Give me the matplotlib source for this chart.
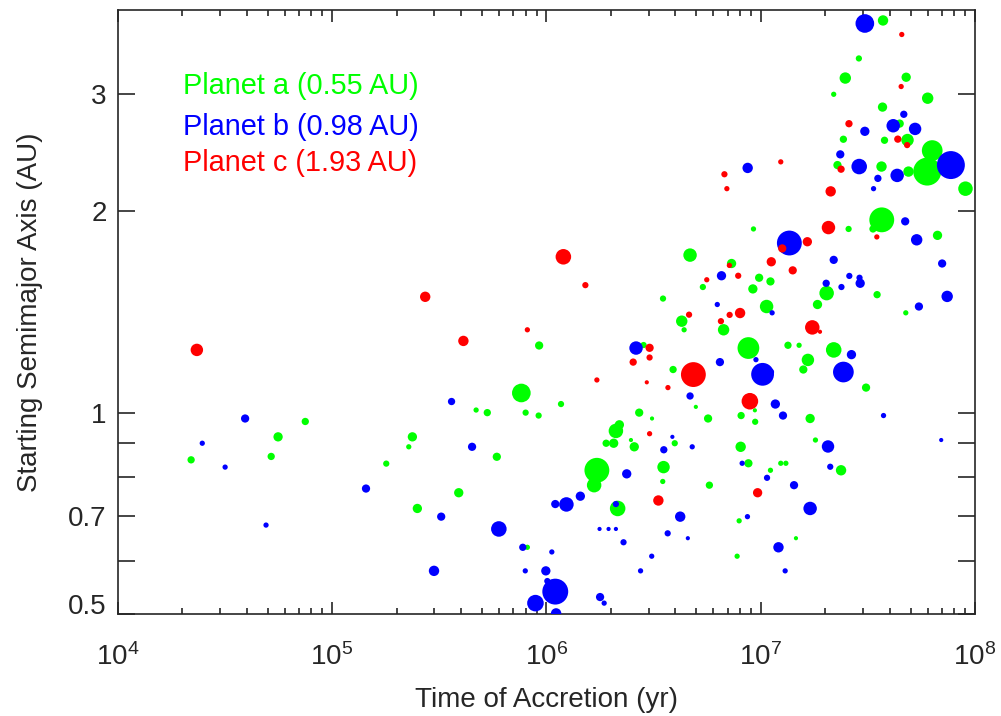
import numpy as np
import matplotlib
matplotlib.use("Agg")
import matplotlib.pyplot as plt
from matplotlib.ticker import FixedLocator, LogLocator, FuncFormatter, NullFormatter, NullLocator

plt.rcParams["font.family"] = ["Liberation Sans", "DejaVu Sans"]
plt.rcParams["mathtext.fontset"] = "custom"
plt.rcParams["mathtext.rm"] = "Liberation Sans"
plt.rcParams["mathtext.it"] = "Liberation Sans:italic"
plt.rcParams["mathtext.bf"] = "Liberation Sans:bold"

# ---- accreted bodies: time of accretion (yr), starting semimajor axis (AU), mass (M_earth)
time_a = [2.2e4, 5.2e4, 5.6e4, 7.5e4, 1.79e5, 2.37e5, 2.28e5, 4.7e5, 5.3e5, 5.87e5,
          3.9e5, 2.5e5, 8.15e5, 8.0e5, 9.2e5, 9.25e5, 7.64e5, 1.17e6, 1.72e6, 1.67e6,
          1.9e6, 2.06e6, 2.11e6, 2.19e6, 2.48e6, 2.57e6, 2.15e6, 2.71e6, 3.11e6, 3.52e6,
          3.49e6, 3.97e6, 3.9e6, 4.98e6, 5.68e6, 5.76e6, 8.1e6, 8.06e6, 8.76e6, 7.93e6,
          7.76e6, 9.42e6, 9.39e6, 8.76e6, 4.28e6, 4.39e6, 6.71e6, 2.84e6, 3.5e6, 5.37e6,
          9.19e6, 9.83e6, 1.11e7, 7.31e6, 4.68e6, 9.25e6, 1.065e7, 1.34e7, 1.51e7, 1.66e7,
          1.58e7, 2.19e7, 3.1e7, 1.7e7, 1.8e7, 1.11e7, 1.24e7, 1.31e7, 2.37e7, 1.46e7,
          1.84e7, 2.03e7, 3.49e7, 4.75e7, 3.67e7, 3.34e7, 2.57e7, 6.68e7, 9.02e7, 5.98e7,
          6.31e7, 4.89e7, 3.66e7, 2.28e7, 2.43e7, 3.78e7, 4.84e7, 4.45e7, 3.7e7, 6.01e7,
          2.19e7, 2.48e7, 4.77e7, 2.87e7, 3.72e7]
semi_a = [0.85, 0.86, 0.92, 0.97, 0.839, 0.92, 0.889, 1.009, 1.0, 0.859,
          0.759, 0.719, 0.629, 1.0, 0.99, 1.26, 1.07, 1.03, 0.82, 0.779,
          0.90, 0.90, 0.939, 0.959, 0.91, 0.889, 0.719, 1.0, 0.98, 0.829,
          0.789, 0.90, 1.16, 1.02, 0.98, 0.779, 0.99, 0.889, 0.84, 0.689,
          0.61, 0.969, 1.008, 1.249, 1.37, 1.33, 1.33, 1.262, 1.481, 1.541,
          1.531, 1.591, 1.571, 1.671, 1.72, 1.882, 1.441, 1.261, 1.261, 1.199,
          1.16, 1.241, 1.09, 0.98, 0.91, 0.82, 0.84, 0.84, 0.82, 0.649,
          1.451, 1.509, 1.501, 1.41, 1.942, 1.882, 1.882, 1.841, 2.162, 2.293,
          2.465, 2.293, 2.333, 2.345, 2.563, 2.554, 2.556, 2.705, 2.863, 2.952,
          2.992, 3.164, 3.173, 3.385, 3.858]
mass_a = [0.016, 0.016, 0.033, 0.016, 0.010, 0.033, 0.006, 0.006, 0.016, 0.023,
          0.033, 0.033, 0.006, 0.010, 0.010, 0.023, 0.266, 0.010, 0.630, 0.125,
          0.016, 0.033, 0.125, 0.033, 0.003, 0.033, 0.154, 0.023, 0.003, 0.079,
          0.006, 0.010, 0.016, 0.003, 0.023, 0.016, 0.016, 0.046, 0.023, 0.006,
          0.006, 0.010, 0.003, 0.422, 0.061, 0.006, 0.061, 0.010, 0.010, 0.010,
          0.033, 0.023, 0.023, 0.033, 0.100, 0.006, 0.100, 0.016, 0.006, 0.079,
          0.023, 0.154, 0.023, 0.033, 0.006, 0.006, 0.006, 0.006, 0.046, 0.003,
          0.033, 0.125, 0.016, 0.006, 0.630, 0.016, 0.010, 0.033, 0.125, 0.897,
          0.364, 0.046, 0.046, 0.023, 0.016, 0.016, 0.079, 0.023, 0.033, 0.061,
          0.006, 0.061, 0.033, 0.010, 0.046]

time_b = [2.48e4, 3.17e4, 3.93e4, 4.92e4, 1.44e5, 3.23e5, 2.99e5, 3.61e5, 4.5e5, 6.0e5,
          7.76e5, 1.06e6, 7.97e5, 9.94e5, 1.01e6, 1.1e6, 8.89e5, 1.11e6, 1.1e6, 1.24e6,
          1.44e6, 2.11e6, 2.37e6, 1.77e6, 1.95e6, 2.11e6, 2.29e6, 2.75e6, 3.1e6, 1.78e6,
          1.86e6, 2.62e6, 3.53e6, 3.87e6, 4.79e6, 4.68e6, 4.21e6, 3.68e6, 4.57e6, 6.45e6,
          9.5e6, 1.02e7, 1.11e7, 8.19e6, 8.67e6, 1.07e7, 1.17e7, 1.27e7, 1.21e7, 1.3e7,
          1.43e7, 1.7e7, 2.06e7, 2.11e7, 2.43e7, 2.65e7, 3.74e7, 6.95e7, 6.27e6, 6.56e6,
          1.13e7, 8.69e6, 1.36e7, 2.19e7, 2.02e7, 2.38e7, 2.59e7, 2.89e7, 2.91e7, 7.41e7,
          5.47e7, 7.02e7, 5.34e7, 4.72e7, 3.36e7, 3.52e7, 4.33e7, 2.88e7, 7.71e7, 2.35e7,
          3.06e7, 4.15e7, 5.25e7, 4.65e7, 3.06e7]
semi_b = [0.90, 0.829, 0.98, 0.679, 0.77, 0.699, 0.58, 1.039, 0.889, 0.67,
          0.629, 0.619, 0.58, 0.58, 0.56, 0.54, 0.519, 0.501, 0.73, 0.729,
          0.75, 0.73, 0.81, 0.67, 0.67, 0.67, 0.64, 0.58, 0.61, 0.53,
          0.519, 1.249, 0.88, 0.92, 0.889, 1.059, 0.699, 0.66, 0.649, 1.19,
          1.20, 1.141, 1.15, 0.84, 0.699, 0.799, 1.03, 0.99, 0.629, 0.58,
          0.779, 0.719, 0.89, 0.83, 1.15, 1.221, 0.99, 0.91, 1.451, 1.602,
          1.41, 2.322, 1.793, 1.692, 1.561, 1.541, 1.601, 1.591, 1.561, 1.492,
          1.441, 1.671, 1.813, 1.932, 2.162, 2.24, 2.263, 2.333, 2.345, 2.433,
          2.634, 2.685, 2.656, 2.793, 3.818]
mass_b = [0.006, 0.006, 0.023, 0.006, 0.023, 0.023, 0.046, 0.016, 0.023, 0.154,
          0.016, 0.006, 0.006, 0.033, 0.010, 0.712, 0.187, 0.046, 0.023, 0.125,
          0.033, 0.010, 0.033, 0.003, 0.003, 0.003, 0.010, 0.006, 0.006, 0.023,
          0.006, 0.100, 0.016, 0.003, 0.006, 0.016, 0.046, 0.010, 0.003, 0.023,
          0.006, 0.485, 0.016, 0.006, 0.006, 0.010, 0.033, 0.023, 0.046, 0.006,
          0.023, 0.100, 0.079, 0.010, 0.364, 0.033, 0.006, 0.003, 0.006, 0.033,
          0.006, 0.046, 0.630, 0.023, 0.016, 0.010, 0.010, 0.010, 0.033, 0.061,
          0.023, 0.023, 0.061, 0.023, 0.006, 0.016, 0.100, 0.154, 0.897, 0.023,
          0.033, 0.100, 0.079, 0.016, 0.266]

time_c = [2.34e4, 2.72e5, 4.1e5, 8.15e5, 1.2e6, 1.52e6, 1.72e6, 2.54e6, 3.03e6, 3.03e6,
          2.94e6, 3.03e6, 3.69e6, 3.33e6, 4.85e6, 8.9e6, 9.67e6, 4.63e6, 6.52e6, 7.16e6,
          8.01e6, 5.6e6, 7.85e6, 7.14e6, 1.12e7, 1.41e7, 1.74e7, 1.89e7, 6.77e6, 6.95e6,
          1.24e7, 1.65e7, 1.26e7, 2.07e7, 3.48e7, 2.12e7, 2.37e7, 2.58e7, 4.36e7, 4.82e7,
          4.52e7, 4.55e7]
semi_c = [1.241, 1.49, 1.28, 1.33, 1.71, 1.551, 1.119, 1.19, 1.209, 1.25,
          1.11, 0.93, 1.09, 0.739, 1.14, 1.04, 0.759, 1.401, 1.37, 1.40,
          1.409, 1.58, 1.602, 1.66, 1.681, 1.632, 1.341, 1.321, 2.272, 2.162,
          2.371, 1.801, 1.76, 1.891, 1.831, 2.142, 2.312, 2.704, 2.564, 2.512,
          3.073, 3.676]
mass_c = [0.079, 0.046, 0.046, 0.006, 0.154, 0.010, 0.006, 0.016, 0.010, 0.023,
          0.003, 0.006, 0.006, 0.046, 0.630, 0.187, 0.033, 0.010, 0.010, 0.010,
          0.046, 0.006, 0.010, 0.006, 0.033, 0.023, 0.125, 0.003, 0.010, 0.006,
          0.006, 0.033, 0.023, 0.100, 0.006, 0.046, 0.016, 0.016, 0.016, 0.010,
          0.006, 0.006]

planet_names = ["Planet a (0.55 AU)", "Planet b (0.98 AU)", "Planet c (1.93 AU)"]
planet_colors = ["#00ff00", "#0000ff", "#ff0000"]

x_ticks = [1e4, 1e5, 1e6, 1e7, 1e8]
y_ticks = [0.5, 0.6, 0.7, 0.8, 0.9, 1, 2, 3]
y_labels = {0.5: "0.5", 0.7: "0.7", 1: "1", 2: "2", 3: "3"}

DPI = 100
fig = plt.figure(figsize=(10.01, 7.16), dpi=DPI)
ax = fig.add_axes([0.1176, 0.1425, 0.8565, 0.8436])
ax.set_xscale("log")
ax.set_yscale("log")
ax.set_xlim(1e4, 1e8)
ax.set_ylim(0.5, 4.0)


def marker_area(mass):
    # symbol diameter grows with the cube root of the mass
    d_px = 29.0 * np.cbrt(np.asarray(mass))
    d_pt = d_px * 72.0 / DPI
    return d_pt ** 2


groups = [(time_a, semi_a, mass_a), (time_b, semi_b, mass_b), (time_c, semi_c, mass_c)]
for (t, a, m), col in zip(groups, planet_colors):
    ax.scatter(t, a, s=marker_area(m), c=col, edgecolors="none", zorder=3)

# planet labels
label_y = [0.861, 0.793, 0.734]
for name, col, yy in zip(planet_names, planet_colors, label_y):
    ax.text(0.0762, yy, name, color=col, fontsize=20.8, transform=ax.transAxes,
            ha="left", va="baseline")

edge = "#262626"
for sp in ax.spines.values():
    sp.set_linewidth(1.2)
    sp.set_color(edge)

# x axis: decades with minor ticks
ax.xaxis.set_major_locator(FixedLocator(x_ticks))
ax.xaxis.set_major_formatter(FuncFormatter(
    lambda v, p: r"$\mathregular{10^{%d}}$" % int(round(np.log10(v)))))
ax.xaxis.set_minor_locator(LogLocator(base=10, subs=np.arange(2, 10), numticks=20))
ax.xaxis.set_minor_formatter(NullFormatter())
ax.tick_params(axis="x", which="major", direction="in", length=8.6, width=1.2,
               top=True, bottom=True, labelsize=20, pad=21, colors=edge)
ax.tick_params(axis="x", which="minor", direction="in", length=4.2, width=1.2,
               top=True, bottom=True, colors=edge)

# y axis
ax.yaxis.set_major_locator(FixedLocator(y_ticks))
ax.yaxis.set_major_formatter(FuncFormatter(
    lambda v, p: next((s for k, s in y_labels.items() if abs(v - k) < 1e-6), "")))
ax.yaxis.set_minor_locator(NullLocator())
ax.tick_params(axis="y", which="major", direction="in", length=12.2, width=1.2,
               left=True, right=True, labelsize=20, pad=8, colors=edge)

ax.set_xlabel("Time of Accretion (yr)", fontsize=20, color=edge, labelpad=11.5)
ax.set_ylabel("Starting Semimajor Axis (AU)", fontsize=20, color=edge, labelpad=18)

fig.canvas.draw()
# the lowest label sits on the bottom edge of the frame
ax.yaxis.get_major_ticks()[0].label1.set_verticalalignment("baseline")

fig.savefig("out.png", dpi=DPI)
